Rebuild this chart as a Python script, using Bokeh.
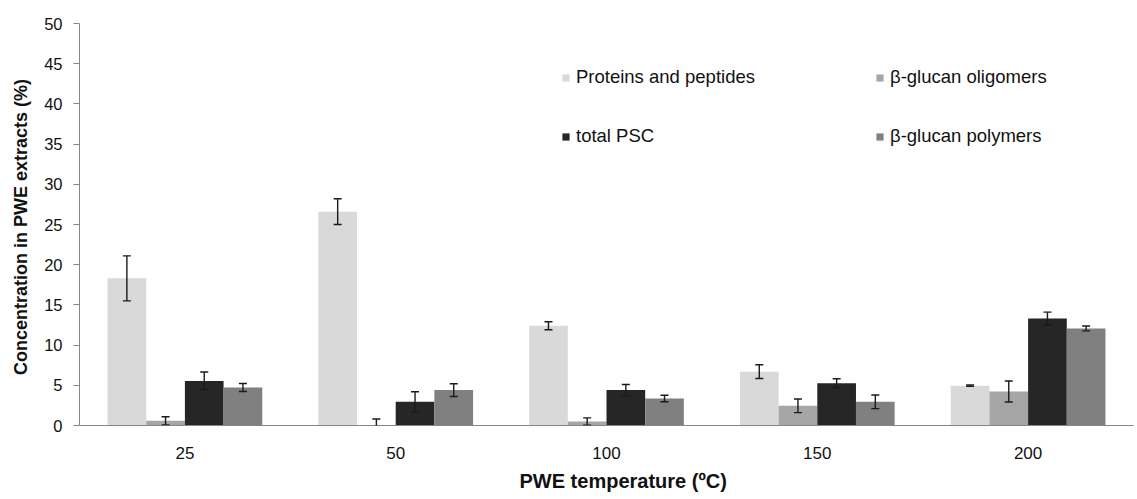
from bokeh.plotting import figure
from bokeh.models import (ColumnDataSource, FactorRange, Range1d, Legend, LegendItem,
                          Whisker, TeeHead, SingleIntervalTicker, Title)
from bokeh.transform import dodge
from bokeh.embed import file_html
from bokeh.resources import INLINE

temps = ["25", "50", "100", "150", "200"]
series = ["Proteins and peptides", "β-glucan oligomers", "total PSC", "β-glucan polymers"]
colors = ["#d9d9d9", "#a6a6a6", "#262626", "#808080"]

proteins = [18.3, 26.6, 12.4, 6.7, 4.95]
proteins_err = [2.8, 1.6, 0.5, 0.85, 0.08]
oligomers = [0.58, 0.0, 0.5, 2.45, 4.23]
oligomers_err = [0.5, 0.8, 0.45, 0.85, 1.3]
total_psc = [5.55, 2.95, 4.4, 5.27, 13.3]
total_psc_err = [1.1, 1.25, 0.7, 0.55, 0.8]
polymers = [4.73, 4.4, 3.36, 2.95, 12.07]
polymers_err = [0.5, 0.8, 0.4, 0.85, 0.3]

values = [proteins, oligomers, total_psc, polymers]
errors = [proteins_err, oligomers_err, total_psc_err, polymers_err]

FONT = "Liberation Sans"
TXT = "#111111"

p = figure(width=1137, height=499, x_range=FactorRange(factors=temps, range_padding=0),
           y_range=Range1d(0, 50), output_backend="svg", toolbar_location=None,
           min_border_left=79, min_border_right=4, min_border_top=23, min_border_bottom=74)
p.outline_line_color = None
p.grid.visible = False
p.background_fill_color = "white"
p.border_fill_color = "white"

w = 0.1835
offsets = [-1.5 * w, -0.5 * w, 0.5 * w, 1.5 * w]
renderers = []
for vals, errs, col, off in zip(values, errors, colors, offsets):
    src = ColumnDataSource(dict(temp=temps, val=vals,
                                upper=[v + e for v, e in zip(vals, errs)],
                                lower=[v - e for v, e in zip(vals, errs)]))
    r = p.vbar(x=dodge("temp", off, range=p.x_range), top="val", width=w, source=src,
               fill_color=col, line_color=None)
    renderers.append(r)
    wh = Whisker(base=dodge("temp", off, range=p.x_range), upper="upper", lower="lower",
                 source=src, line_color="#1a1a1a", line_width=1.4, level="overlay",
                 upper_head=TeeHead(size=8, line_color="#1a1a1a", line_width=1.4),
                 lower_head=TeeHead(size=8, line_color="#1a1a1a", line_width=1.4))
    p.add_layout(wh)

# axes
p.yaxis.ticker = SingleIntervalTicker(interval=5)
p.yaxis.axis_line_color = "#868686"
p.yaxis.major_tick_line_color = "#868686"
p.yaxis.major_tick_out = 6
p.yaxis.major_tick_in = 0
p.yaxis.minor_tick_line_color = None
p.yaxis.major_label_standoff = 11
p.yaxis.major_label_text_font = FONT
p.yaxis.major_label_text_font_size = "16.5px"
p.yaxis.major_label_text_color = TXT
p.yaxis.axis_label = "Concentration in PWE extracts  (%)"
p.yaxis.axis_label_text_font = FONT
p.yaxis.axis_label_text_font_style = "bold"
p.yaxis.axis_label_text_font_size = "18px"
p.yaxis.axis_label_text_color = TXT
p.yaxis.axis_label_standoff = 10

p.xaxis.axis_line_color = "#868686"
p.xaxis.major_tick_line_color = None
p.xaxis.major_tick_out = 0
p.xaxis.major_tick_in = 0
p.xaxis.major_label_standoff = 21
p.xaxis.major_label_text_font = FONT
p.xaxis.major_label_text_font_size = "17px"
p.xaxis.major_label_text_color = TXT

# x-axis title (slightly right of centre, as in the original)
xtitle = Title(text="PWE temperature (ºC)", align="left", offset=440, standoff=13,
               vertical_align="bottom", text_font=FONT, text_font_style="bold",
               text_font_size="20px", text_color=TXT)
p.add_layout(xtitle, "below")

def make_legend(items, x, y):
    lg = Legend(items=items, location=(x, y), orientation="vertical",
                background_fill_alpha=0, border_line_color=None, padding=0, margin=0,
                spacing=37, glyph_height=9, glyph_width=9, label_height=22,
                label_standoff=6, label_text_font=FONT, label_text_font_size="18.5px",
                label_text_color=TXT)
    p.add_layout(lg)

make_legend([LegendItem(label=series[0], renderers=[renderers[0]]),
             LegendItem(label=series[2], renderers=[renderers[2]])], 482, 278)
make_legend([LegendItem(label=series[1], renderers=[renderers[1]]),
             LegendItem(label=series[3], renderers=[renderers[3]])], 796, 278)

open("out.html", "w").write(file_html(p, INLINE))
